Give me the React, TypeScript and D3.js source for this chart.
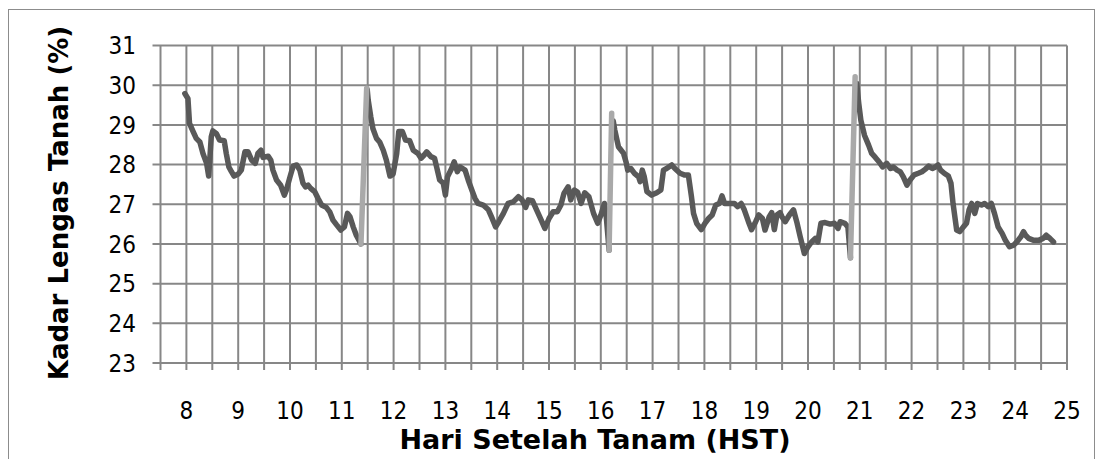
import React, { useEffect, useRef } from 'react';
import * as d3 from 'd3';

// hari setelah tanam (HST) untuk tiap titik pengukuran
const hst = [
  7.97, 8.03, 8.06, 8.13, 8.19, 8.26, 8.32, 8.39, 8.43, 8.48, 8.51, 8.58, 8.64, 8.73, 8.77, 8.82, 8.87, 8.92,
  9.0, 9.06, 9.13, 9.19, 9.26, 9.33, 9.38, 9.44, 9.48, 9.58, 9.63, 9.67, 9.74, 9.82, 9.89, 9.93,
  10.0, 10.06, 10.13, 10.19, 10.25, 10.3, 10.35, 10.4, 10.48, 10.54, 10.61, 10.7, 10.77, 10.83, 10.9, 10.98,
  11.05, 11.11, 11.16, 11.22, 11.28, 11.37, 11.43,
  11.49, 11.51, 11.56, 11.6, 11.67, 11.73, 11.8, 11.86, 11.93, 11.99,
  12.06, 12.1, 12.17, 12.23, 12.31, 12.38, 12.47, 12.53, 12.59, 12.64, 12.72, 12.79, 12.83, 12.89, 12.96,
  13.0, 13.04, 13.12, 13.17, 13.23, 13.28, 13.38, 13.44, 13.51, 13.57, 13.63, 13.73, 13.83, 13.89, 13.97,
  14.03, 14.12, 14.21, 14.31, 14.41, 14.48, 14.55, 14.6, 14.68, 14.76, 14.85, 14.92,
  15.0, 15.08, 15.16, 15.23, 15.29, 15.37, 15.42, 15.49, 15.55, 15.62, 15.69, 15.77, 15.86, 15.94,
  16.0, 16.07, 16.1, 16.16, 16.2,
  16.24, 16.27, 16.34, 16.44, 16.49, 16.52, 16.58, 16.65, 16.73, 16.76, 16.8, 16.84, 16.89, 16.98,
  17.08, 17.16, 17.21, 17.27, 17.37, 17.43, 17.53, 17.61, 17.69, 17.75, 17.79, 17.85, 17.94,
  18.01, 18.08, 18.15, 18.22, 18.29, 18.34, 18.39, 18.5, 18.58, 18.64, 18.71, 18.77, 18.85, 18.91, 18.99,
  19.05, 19.12, 19.17, 19.25, 19.3, 19.35, 19.4, 19.46, 19.5, 19.56, 19.64, 19.72, 19.79, 19.85, 19.93,
  20.0, 20.07, 20.14, 20.19, 20.25, 20.33, 20.43, 20.51, 20.58, 20.62, 20.71, 20.77, 20.82, 20.88,
  20.94, 20.98, 21.02, 21.09, 21.17, 21.23, 21.3, 21.37, 21.44, 21.52, 21.59, 21.65, 21.72, 21.78, 21.84, 21.91, 21.97,
  22.05, 22.13, 22.2, 22.26, 22.33, 22.4, 22.46, 22.51, 22.56, 22.63, 22.71, 22.76, 22.8, 22.87, 22.93,
  23.0, 23.06, 23.11, 23.16, 23.22, 23.27, 23.35, 23.41, 23.48, 23.54, 23.6, 23.67, 23.75, 23.81, 23.89, 23.97,
  24.03, 24.11, 24.16, 24.2, 24.26, 24.36, 24.45, 24.54, 24.6, 24.67, 24.74,
];

// kadar lengas tanah (%), null = putus saat penyiraman
const kadar = [
  29.79, 29.66, 29.04, 28.83, 28.66, 28.57, 28.28, 28.03, 27.71, 28.7, 28.85, 28.78, 28.62, 28.6, 28.28, 27.94, 27.82, 27.71,
  27.76, 27.86, 28.32, 28.32, 28.11, 28.03, 28.28, 28.36, 28.18, 28.21, 28.11, 27.86, 27.61, 27.48, 27.23, 27.36,
  27.69, 27.96, 27.99, 27.86, 27.53, 27.44, 27.48, 27.4, 27.31, 27.15, 26.98, 26.92, 26.8, 26.6, 26.48, 26.35,
  26.43, 26.77, 26.68, 26.43, 26.22, 26.0, null,
  29.9, 29.62, 29.2, 28.91, 28.66, 28.57, 28.36, 28.11, 27.71, 27.76,
  28.28, 28.83, 28.83, 28.62, 28.6, 28.36, 28.28, 28.16, 28.24, 28.32, 28.2, 28.16, 27.94, 27.61, 27.53,
  27.23, 27.69, 27.9, 28.07, 27.82, 27.94, 27.86, 27.61, 27.36, 27.15, 27.02, 26.98, 26.86, 26.68, 26.43,
  26.56, 26.77, 27.02, 27.06, 27.19, 27.11, 26.92, 27.11, 27.09, 26.86, 26.6, 26.39,
  26.64, 26.81, 26.81, 26.98, 27.28, 27.44, 27.11, 27.36, 27.31, 27.02, 27.29, 27.19, 26.77, 26.52,
  26.72, 27.02, 26.77, 25.84, null,
  29.1, 28.87, 28.45, 28.28, 28.05, 27.86, 27.9, 27.78, 27.69, 27.57, 27.86, 27.69, 27.32, 27.23,
  27.29, 27.36, 27.86, 27.9, 27.99, 27.9, 27.78, 27.74, 27.74, 27.19, 26.77, 26.52, 26.36,
  26.52, 26.64, 26.73, 26.98, 27.02, 27.21, 27.02, 27.02, 27.02, 26.94, 27.02, 26.86, 26.56, 26.36, 26.56,
  26.73, 26.64, 26.35, 26.68, 26.79, 26.36, 26.73, 26.79, 26.68, 26.56, 26.73, 26.86, 26.52, 26.18, 25.76,
  25.93, 26.05, 26.14, 26.05, 26.52, 26.54, 26.5, 26.52, 26.39, 26.56, 26.52, 26.43, 25.65, null,
  30.04, 29.54, 29.12, 28.74, 28.49, 28.28, 28.18, 28.07, 27.94, 28.03, 27.9, 27.94, 27.86, 27.82, 27.69, 27.48, 27.61,
  27.74, 27.78, 27.82, 27.88, 27.96, 27.9, 27.94, 27.99, 27.86, 27.78, 27.71, 27.53, 27.02, 26.35, 26.31,
  26.43, 26.52, 26.86, 27.02, 26.77, 27.02, 26.98, 27.02, 26.94, 27.02, 26.77, 26.43, 26.26, 26.09, 25.93, 25.97,
  26.05, 26.18, 26.31, 26.22, 26.14, 26.09, 26.09, 26.14, 26.22, 26.14, 26.05,
];

// segmen penyiraman (awal -> akhir)
const siramHst = [[11.37, 11.48], [16.16, 16.21], [20.82, 20.91]];
const siramKadar = [[26.0, 29.92], [25.84, 29.29], [25.65, 30.21]];

const yTicks = [23, 24, 25, 26, 27, 28, 29, 30, 31];
const xLabels = [8, 9, 10, 11, 12, 13, 14, 15, 16, 17, 18, 19, 20, 21, 22, 23, 24, 25];

const W = 1102;
const H = 459;

const App = () => {
  const ref = useRef(null);

  useEffect(() => {
    const svg = d3.select(ref.current);
    svg.selectAll('*').remove();

    const tickFont = '"DejaVu Sans Condensed", "Liberation Sans", sans-serif';
    const titleFont = '"DejaVu Sans", Verdana, sans-serif';
    const gridColor = '#878787';

    const x = d3.scaleLinear().domain([7.5, 25]).range([160.5, 1067]);
    const y = d3.scaleLinear().domain([23, 31]).range([363, 45.5]);

    // chart border
    svg.append('rect')
      .attr('x', 8.5).attr('y', 9.5)
      .attr('width', 1086).attr('height', 480)
      .attr('fill', 'white')
      .attr('stroke', '#8c8c8c')
      .attr('stroke-width', 1);

    // vertical gridlines each half day + tick marks
    const halfDays = d3.range(7.5, 25.001, 0.5);
    svg.append('g').selectAll('line')
      .data(halfDays)
      .enter()
      .append('line')
      .attr('x1', d => x(d)).attr('x2', d => x(d))
      .attr('y1', y(31)).attr('y2', y(23) + 7)
      .attr('stroke', gridColor)
      .attr('stroke-width', 2);

    // horizontal gridlines + left ticks
    svg.append('g').selectAll('line')
      .data(yTicks)
      .enter()
      .append('line')
      .attr('x1', x(7.5) - 8).attr('x2', x(25))
      .attr('y1', d => y(d)).attr('y2', d => y(d))
      .attr('stroke', gridColor)
      .attr('stroke-width', 2);

    // y labels
    svg.append('g').selectAll('text')
      .data(yTicks)
      .enter()
      .append('text')
      .attr('x', 136)
      .attr('y', d => y(d))
      .attr('dy', '0.36em')
      .attr('text-anchor', 'end')
      .style('font-family', tickFont)
      .style('font-size', '24px')
      .text(d => d);

    // x labels
    svg.append('g').selectAll('text')
      .data(xLabels)
      .enter()
      .append('text')
      .attr('x', d => x(d))
      .attr('y', 410)
      .attr('dy', '0.36em')
      .attr('text-anchor', 'middle')
      .style('font-family', tickFont)
      .style('font-size', '24px')
      .text(d => d);

    // moisture line
    const points = hst.map((d, i) => [d, kadar[i]]);
    const line = d3.line()
      .defined(d => d[1] != null)
      .x(d => x(d[0]))
      .y(d => y(d[1]));

    svg.append('path')
      .datum(points)
      .attr('fill', 'none')
      .attr('stroke', '#595959')
      .attr('stroke-width', 5.5)
      .attr('stroke-linejoin', 'round')
      .attr('stroke-linecap', 'round')
      .attr('d', line);

    // watering jumps
    siramHst.forEach((s, i) => {
      svg.append('path')
        .datum(s.map((d, j) => [d, siramKadar[i][j]]))
        .attr('fill', 'none')
        .attr('stroke', '#a9a9a9')
        .attr('stroke-width', 5.5)
        .attr('stroke-linecap', 'round')
        .attr('d', line);
    });

    // axis titles
    svg.append('text')
      .attr('x', 595)
      .attr('y', 439)
      .attr('dy', '0.36em')
      .attr('text-anchor', 'middle')
      .style('font-family', titleFont)
      .style('font-size', '27px')
      .style('font-weight', 'bold')
      .text('Hari Setelah Tanam (HST)');

    svg.append('text')
      .attr('transform', 'rotate(-90)')
      .attr('x', -203)
      .attr('y', 59)
      .attr('dy', '0.36em')
      .attr('text-anchor', 'middle')
      .style('font-family', titleFont)
      .style('font-size', '26px')
      .style('font-weight', 'bold')
      .text('Kadar Lengas Tanah (%)');
  }, []);

  return (
    <svg
      ref={ref}
      width={W}
      height={H}
      style={{ position: 'absolute', left: 0, top: 0, background: 'white' }}
    />
  );
};

export default App;
